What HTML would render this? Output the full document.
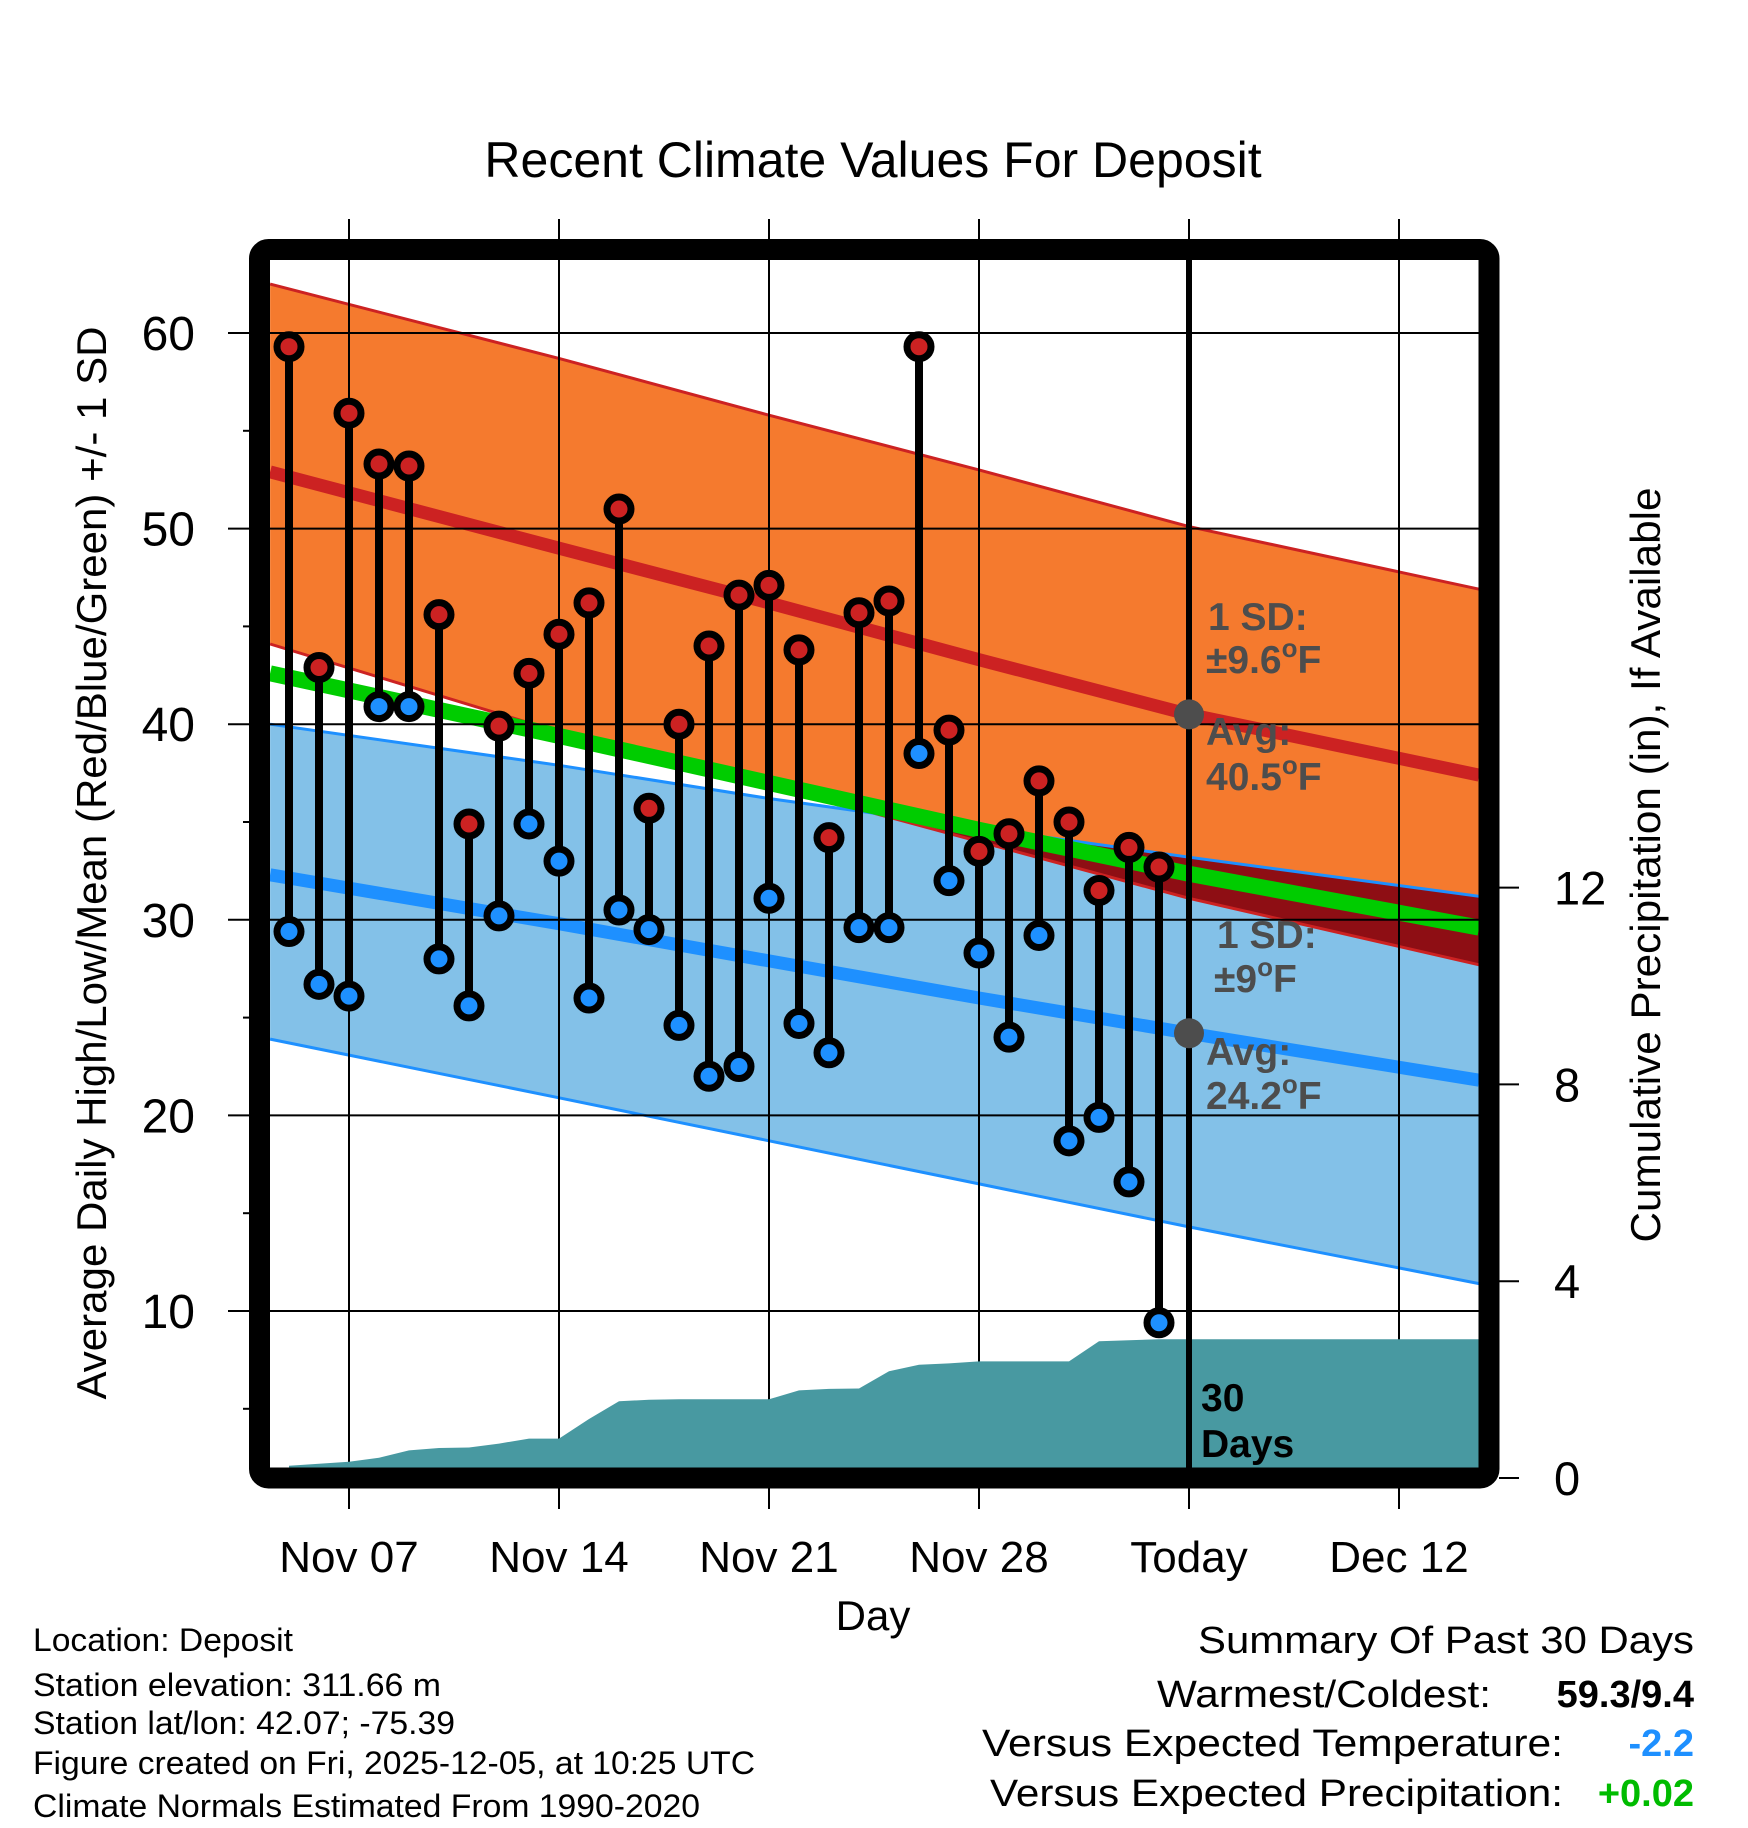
<!DOCTYPE html>
<html><head><meta charset="utf-8"><style>
html,body{margin:0;padding:0;background:#fff;}
svg{display:block;font-family:"Liberation Sans",sans-serif;}
</style></head><body>
<svg id="chart" xmlns="http://www.w3.org/2000/svg" width="1748" height="1828" viewBox="0 0 1748 1828">
<text x="873" y="177" font-size="50" text-anchor="middle">Recent Climate Values For Deposit</text>
<g id="bands"></g>
<g id="grid"></g>
<g id="precip"></g>
<g id="marks"></g>
<g id="axes"></g>
<rect x="259.5" y="249.5" width="1229.5" height="1228.5" rx="9" fill="none" stroke="#000" stroke-width="21"/>
<g fill="#4d4d4d" font-weight="bold" font-size="39">
<text x="1208" y="630">1 SD:</text>
<text x="1206" y="673">±9.6<tspan font-size="26" dy="-16">o</tspan><tspan dy="16">F</tspan></text>
<text x="1206" y="745">Avg:</text>
<text x="1206" y="790">40.5<tspan font-size="26" dy="-16">o</tspan><tspan dy="16">F</tspan></text>
</g>
<g fill="#4d4d4d" font-weight="bold" font-size="39">
<text x="1217" y="948">1 SD:</text>
<text x="1214" y="992">±9<tspan font-size="26" dy="-16">o</tspan><tspan dy="16">F</tspan></text>
<text x="1206" y="1065">Avg:</text>
<text x="1206" y="1109">24.2<tspan font-size="26" dy="-16">o</tspan><tspan dy="16">F</tspan></text>
</g>
<g font-weight="bold" font-size="39">
<text x="1201" y="1411">30</text>
<text x="1201" y="1457">Days</text>
</g>
<text x="873" y="1630" font-size="42" text-anchor="middle">Day</text>
<text transform="translate(106,863) rotate(-90)" font-size="42" text-anchor="middle" textLength="1073" lengthAdjust="spacingAndGlyphs">Average Daily High/Low/Mean (Red/Blue/Green) +/- 1 SD</text>
<text transform="translate(1660,865) rotate(-90)" font-size="42" text-anchor="middle" textLength="755" lengthAdjust="spacingAndGlyphs">Cumulative Precipitation (in), If Available</text>
<g font-size="32">
<text x="33" y="1651" textLength="260" lengthAdjust="spacingAndGlyphs">Location: Deposit</text>
<text x="33" y="1696" textLength="408" lengthAdjust="spacingAndGlyphs">Station elevation: 311.66 m</text>
<text x="33" y="1734" textLength="422" lengthAdjust="spacingAndGlyphs">Station lat/lon: 42.07; -75.39</text>
<text x="33" y="1774" textLength="722" lengthAdjust="spacingAndGlyphs">Figure created on Fri, 2025-12-05, at 10:25 UTC</text>
<text x="33" y="1817" textLength="667" lengthAdjust="spacingAndGlyphs">Climate Normals Estimated From 1990-2020</text>
</g>
<g font-size="38" text-anchor="end">
<text x="1694" y="1653" textLength="496" lengthAdjust="spacingAndGlyphs">Summary Of Past 30 Days</text>
<text x="1491" y="1707" textLength="334" lengthAdjust="spacingAndGlyphs">Warmest/Coldest:</text>
<text x="1694" y="1707" font-weight="bold">59.3/9.4</text>
<text x="1563" y="1756" textLength="581" lengthAdjust="spacingAndGlyphs">Versus Expected Temperature:</text>
<text x="1694" y="1756" font-weight="bold" fill="#1e90ff">-2.2</text>
<text x="1563" y="1806" textLength="573" lengthAdjust="spacingAndGlyphs">Versus Expected Precipitation:</text>
<text x="1694" y="1806" font-weight="bold" fill="#00bb00">+0.02</text>
</g>
</svg>
<script>
// ---- data ----
var normDays = [-0.63, 9, 16, 23, 30, 39.67];
var highUpper = [62.5, 58.7, 55.8, 53.0, 50.1, 46.9];
var highMean = [52.9, 49.0, 46.2, 43.3, 40.5, 37.4];
var highLower = [44.1, 39.6, 36.9, 34.0, 31.1, 27.7];
var lowUpper = [40.0, 37.9, 36.2, 34.7, 33.2, 31.2];
var lowMean = [32.3, 29.8, 27.9, 26.0, 24.2, 21.8];
var lowLower = [23.9, 20.9, 18.7, 16.5, 14.3, 11.4];
var meanNormal = [42.6, 39.4, 37.0, 34.6, 32.35, 29.6];
var highs = [59.3,42.9,55.9,53.3,53.2,45.6,34.9,39.9,42.6,44.6,46.2,51.0,35.7,40.0,44.0,46.6,47.1,43.8,34.2,45.7,46.3,59.3,39.7,33.5,34.4,37.1,35.0,31.5,33.7,32.7];
var lows = [29.4,26.7,26.1,40.9,40.9,28.0,25.6,30.2,34.9,33.0,26.0,30.5,29.5,24.6,22.0,22.5,31.1,24.7,23.2,29.6,29.6,38.5,32.0,28.3,24.0,29.2,18.7,19.9,16.6,9.4];
var precipCum = [0.25,0.29,0.33,0.41,0.56,0.61,0.62,0.70,0.80,0.80,1.20,1.56,1.59,1.60,1.60,1.60,1.60,1.78,1.81,1.82,2.17,2.30,2.33,2.37,2.37,2.37,2.37,2.78,2.80,2.82];
var xTickDays = [2, 9, 16, 23, 30, 37];
var xTickLabels = ["Nov 07","Nov 14","Nov 21","Nov 28","Today","Dec 12"];
var yTicks = [10,20,30,40,50,60];
var yMinor = [5,15,25,35,45,55];
var pTicks = [0,4,8,12];
var todayDay = 30, endDay = 39.67, todayHigh = 40.5, todayLow = 24.2;

// ---- scales ----
function X(d){ return 289 + d*30; }
function Y(v){ return 333 + (60-v)*19.56; }
function P(i){ return 1478 - i*49.2; }
var NS = "http://www.w3.org/2000/svg";
function mk(tag, parent, attrs){ var e=document.createElementNS(NS,tag); for(var k in attrs) e.setAttribute(k,attrs[k]); parent.appendChild(e); return e; }
function linePts(days, vals){ return days.map(function(d,i){return X(d).toFixed(1)+","+Y(vals[i]).toFixed(1);}); }
function bandPts(days, up, lo){ return linePts(days,up).concat(linePts(days,lo).reverse()).join(" "); }

var bands=document.getElementById('bands'), grid=document.getElementById('grid'), precip=document.getElementById('precip'), marks=document.getElementById('marks'), axes=document.getElementById('axes');

var defs=mk('defs',bands,{});
var cp=mk('clipPath',defs,{id:'orangeClip'});
mk('polygon',cp,{points:bandPts(normDays,highUpper,highLower)});

var e;
e=mk('polygon',bands,{points:bandPts(normDays,lowUpper,lowLower),fill:'#83c1e8'});


e=mk('polygon',bands,{points:bandPts(normDays,highUpper,highLower),fill:'#f57a2e'});


e=mk('polygon',bands,{points:bandPts(normDays,lowUpper,lowLower),fill:'#8e0e14','clip-path':'url(#orangeClip)'});


function pl(vals,color,w,name){
  var l=mk('polyline',bands,{points:linePts(normDays,vals).join(" "),fill:'none',stroke:color,'stroke-width':w});
  
  
}
pl(highUpper,'#cc2222',3,'high-upper-sd-line');
pl(highLower,'#cc2222',3,'high-lower-sd-line');
pl(lowUpper,'#1e90ff',3,'low-upper-sd-line');
pl(lowLower,'#1e90ff',3,'low-lower-sd-line');
pl(meanNormal,'#00cc00',16,'mean-normal-line');
pl(highMean,'#cc2222',13,'high-mean-line');
pl(lowMean,'#1e90ff',13,'low-mean-line');

// gridlines
yTicks.forEach(function(v){
  var g=mk('line',grid,{x1:228,x2:1479,y1:Y(v),y2:Y(v),stroke:'#000','stroke-width':2});
  
  
});
xTickDays.forEach(function(d,i){
  var g=mk('line',grid,{x1:X(d),x2:X(d),y1:219,y2:1509,stroke:'#000','stroke-width':2});
  
  
});

// precipitation
var pp=[X(0)+","+1468];
precipCum.forEach(function(v,i){ pp.push(X(i).toFixed(1)+","+P(v).toFixed(1)); });
pp.push(X(endDay)+","+P(precipCum[precipCum.length-1]).toFixed(1));
pp.push(X(endDay)+",1468");
e=mk('polygon',precip,{points:pp.join(" "),fill:'#4899a1'});



// today line on top (inside frame only)
e=mk('line',precip,{x1:X(todayDay),x2:X(todayDay),y1:255,y2:1470,stroke:'#000','stroke-width':6});



// stems and markers
highs.forEach(function(h,i){
  var s=mk('line',marks,{x1:X(i),x2:X(i),y1:Y(h),y2:Y(lows[i]),stroke:'#000','stroke-width':8});
  
  
});
function marker(d,v,fill,name){
  var c=mk('circle',marks,{cx:X(d),cy:Y(v),r:12,fill:fill,stroke:'#000','stroke-width':7});
  
  
}
highs.forEach(function(h,i){ marker(i,h,'#cc2222','high-point'); });
lows.forEach(function(l,i){ marker(i,l,'#1e90ff','low-point'); });
e=mk('circle',marks,{cx:X(todayDay),cy:Y(todayHigh),r:15,fill:'#4d4d4d'});


e=mk('circle',marks,{cx:X(todayDay),cy:Y(todayLow),r:15,fill:'#4d4d4d'});



// axes ticks and labels
yTicks.forEach(function(v){
  var t=mk('text',axes,{x:195,y:Y(v)+17,'font-size':48,'text-anchor':'end'});
  t.textContent=v;
  
  
});
yMinor.forEach(function(v){
  var t=mk('line',axes,{x1:243,x2:252,y1:Y(v),y2:Y(v),stroke:'#000','stroke-width':2});
  
  
});
xTickDays.forEach(function(d,i){
  var t=mk('text',axes,{x:X(d),y:1572,'font-size':44,'text-anchor':'middle'});
  t.textContent=xTickLabels[i];
  
  
});
pTicks.forEach(function(v){
  var l=mk('line',axes,{x1:1499,x2:1519,y1:P(v),y2:P(v),stroke:'#000','stroke-width':2});
  
  
  var t=mk('text',axes,{x:1554,y:P(v)+17,'font-size':47});
  t.textContent=v;
  
  
});
</script>
</body></html>
